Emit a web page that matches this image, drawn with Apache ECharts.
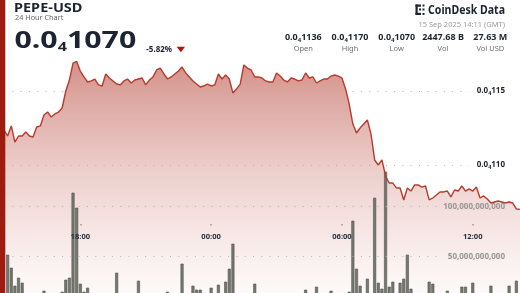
<!DOCTYPE html>
<html><head><meta charset="utf-8">
<script src="https://cdn.jsdelivr.net/npm/echarts@6/dist/echarts.min.js"></script>
<style>html,body{margin:0;padding:0;background:#fff}#c{width:520px;height:293px}</style>
</head><body><div id="c"></div>
<script>
// ---- data ----
const ticker = 'PEPE-USD';
const subtitle = '24 Hour Chart';
const lastPrice = '0.0₄1070';
const change = '-5.82%';
const stamp = '15 Sep 2025 14:11 (GMT)';
const brand = 'CoinDesk Data';
const statLabels = ['Open', 'High', 'Low', 'Vol', 'Vol USD'];
const statValues = ['0.0₄1136', '0.0₄1170', '0.0₄1070', '2447.68 B', '27.63 M'];
const xTickLabels = ['18:00', '00:00', '06:00', '12:00'];
const priceTickLabels = [1100e-8, 1150e-8];
const volumeTickLabels = [50, 100]; // billions

// 10-minute points, 14:30 (14 Sep) .. 14:10 (15 Sep)
const times = [];
for (let i = 0; i < 143; i++) {
  const m = (14 * 60 + 30 + i * 10) % 1440;
  times.push(String(Math.floor(m / 60)).padStart(2, '0') + ':' + String(m % 60).padStart(2, '0'));
}

// price in USD
const price = [
  1123.6e-8, 1119.6e-8, 1126.4e-8, 1115.5e-8, 1119.6e-8, 1119.6e-8, 1122.3e-8, 1119.6e-8, 1118.9e-8, 1125.7e-8,
  1126.4e-8, 1133.8e-8, 1135.8e-8, 1132.4e-8, 1134.5e-8, 1135.8e-8, 1138.5e-8, 1150.0e-8, 1157.4e-8, 1168.9e-8,
  1170.0e-8, 1163.5e-8, 1159.5e-8, 1156.1e-8, 1156.8e-8, 1158.1e-8, 1154.1e-8, 1153.4e-8, 1161.5e-8, 1158.8e-8,
  1156.8e-8, 1154.7e-8, 1154.1e-8, 1156.8e-8, 1158.1e-8, 1155.4e-8, 1157.4e-8, 1158.1e-8, 1158.8e-8, 1154.1e-8,
  1157.4e-8, 1159.5e-8, 1164.2e-8, 1165.5e-8, 1161.5e-8, 1158.1e-8, 1159.5e-8, 1161.5e-8, 1163.5e-8, 1166.2e-8,
  1162.2e-8, 1159.5e-8, 1156.8e-8, 1154.7e-8, 1152.7e-8, 1153.4e-8, 1154.7e-8, 1153.4e-8, 1154.1e-8, 1161.5e-8,
  1158.1e-8, 1160.8e-8, 1158.1e-8, 1148.6e-8, 1151.4e-8, 1154.7e-8, 1167.6e-8, 1165.5e-8, 1164.2e-8, 1159.5e-8,
  1159.5e-8, 1158.8e-8, 1156.8e-8, 1156.1e-8, 1156.1e-8, 1162.2e-8, 1160.1e-8, 1157.4e-8, 1156.1e-8, 1158.8e-8,
  1158.1e-8, 1156.8e-8, 1157.4e-8, 1162.2e-8, 1158.8e-8, 1159.5e-8, 1155.4e-8, 1156.8e-8, 1158.1e-8, 1158.1e-8,
  1160.1e-8, 1160.8e-8, 1160.1e-8, 1158.8e-8, 1151.4e-8, 1141.2e-8, 1127.7e-8, 1121.6e-8, 1125.0e-8, 1127.7e-8,
  1130.4e-8, 1120.9e-8, 1103.4e-8, 1100.0e-8, 1103.4e-8, 1092.6e-8, 1087.8e-8, 1087.8e-8, 1084.5e-8, 1084.5e-8,
  1076.4e-8, 1084.5e-8, 1082.4e-8, 1086.5e-8, 1086.5e-8, 1085.1e-8, 1085.8e-8, 1076.4e-8, 1077.7e-8, 1079.7e-8,
  1081.8e-8, 1081.8e-8, 1082.4e-8, 1078.4e-8, 1083.1e-8, 1082.4e-8, 1085.8e-8, 1082.4e-8, 1083.8e-8, 1082.4e-8,
  1085.1e-8, 1077.7e-8, 1079.1e-8, 1077.0e-8, 1074.3e-8, 1075.0e-8, 1075.7e-8, 1075.0e-8, 1074.3e-8, 1075.0e-8,
  1074.3e-8, 1070.3e-8, 1070.0e-8
];

// volume in billions of PEPE
const volumeB = [
  9, 52, 39, 21, 29, 24, 8, 6, 10, 7,
  5, 16, 9, 6, 8, 11, 15, 27, 29, 114,
  99, 23, 15, 19, 9, 7, 11, 6, 8, 5,
  9, 34, 7, 10, 6, 8, 5, 26, 9, 7,
  12, 6, 8, 5, 7, 15, 9, 6, 11, 43,
  8, 10, 21, 17, 17, 9, 12, 19, 10, 22,
  11, 25, 38, 63, 9, 7, 12, 8, 6, 23,
  7, 5, 8, 6, 10, 7, 5, 9, 6, 4,
  8, 6, 11, 17, 7, 9, 20, 8, 5, 10,
  16, 7, 9, 12, 11, 15, 86, 38, 21, 12,
  28, 10, 109, 24, 18, 135, 20, 25, 12, 24,
  28, 52, 18, 9, 11, 7, 10, 25, 23, 8,
  6, 10, 16, 7, 9, 12, 20, 20, 11, 24,
  9, 7, 10, 12, 21, 8, 6, 9, 11, 21,
  10, 26, 12
];

// ---- helpers ----
const FF = 'Noto Sans';
const DARK = '#1c2431';
function subRich(s, a, b) { // '0.0₄1136' -> rich tokens
  const i = s.indexOf('₄');
  if (i < 0) return '{' + a + '|' + s + '}';
  return '{' + a + '|' + s.slice(0, i) + '}{' + b + '|4}{' + a + '|' + s.slice(i + 1) + '}';
}
const near = (v, arr) => arr.some(t => Math.abs(v - t) < 1e-12);

const chart = echarts.init(document.getElementById('c'), null, {renderer: 'canvas'});

const statX = [303.3, 350, 396.7, 443, 490.3];
const graphics = [];
graphics.push({type: 'rect', z: 100, shape: {x: 0, y: 0, width: 5.3, height: 293}, style: {fill: '#9e1b10'}});
graphics.push({type: 'text', z: 100, x: 14, y: 8, scaleX: 1.16,
  style: {text: ticker, fontSize: 12.5, fontWeight: 'bold', fontFamily: FF, fill: DARK, verticalAlign: 'middle', textVerticalAlign: 'middle'}});
graphics.push({type: 'text', z: 100, x: 15, y: 18.4,
  style: {text: subtitle, fontSize: 7.3, fontFamily: FF, fill: '#666', verticalAlign: 'middle', textVerticalAlign: 'middle'}});
graphics.push({type: 'text', z: 100, x: 14.5, y: 41, scaleX: 1.29,
  style: {text: subRich(lastPrice, 'm', 's'), verticalAlign: 'middle', textVerticalAlign: 'middle',
    rich: {
      m: {fontSize: 23.5, fontWeight: 'bold', fontFamily: FF, fill: DARK, lineHeight: 26},
      s: {fontSize: 12.5, fontWeight: 'bold', fontFamily: FF, fill: DARK, lineHeight: 19.7, verticalAlign: 'bottom'}
    }}});
graphics.push({type: 'text', z: 100, x: 146.3, y: 49.5,
  style: {text: change, fontSize: 8, fontWeight: 'bold', fontFamily: FF, fill: DARK, verticalAlign: 'middle', textVerticalAlign: 'middle'}});
graphics.push({type: 'polygon', z: 100, shape: {points: [[176.7, 46.7], [185, 46.7], [180.85, 52.2]]}, style: {fill: '#b3140c'}});
graphics.push({type: 'text', z: 100, x: 505, y: 10.3, scaleX: 0.88,
  style: {text: brand, fontSize: 12, fontWeight: 'bold', fontFamily: FF, fill: DARK, align: 'right', textAlign: 'right', verticalAlign: 'middle', textVerticalAlign: 'middle'}});
graphics.push({type: 'group', z: 100, x: 415, y: 4, children: [
  {type: 'rect', shape: {x: 0.5, y: 0.5, width: 2.2, height: 10.5}, style: {fill: DARK}},
  {type: 'rect', shape: {x: 0.5, y: 0.5, width: 5.5, height: 2.2}, style: {fill: DARK}},
  {type: 'rect', shape: {x: 0.5, y: 8.8, width: 5.5, height: 2.2}, style: {fill: DARK}},
  {type: 'rect', shape: {x: 7.5, y: 0.5, width: 2, height: 2}, style: {fill: DARK}},
  {type: 'rect', shape: {x: 7.5, y: 4.5, width: 2, height: 2}, style: {fill: DARK}},
  {type: 'rect', shape: {x: 7.5, y: 9, width: 2, height: 2}, style: {fill: DARK}},
  {type: 'rect', shape: {x: 4, y: 4.5, width: 2, height: 2}, style: {fill: DARK}}
]});
graphics.push({type: 'text', z: 100, x: 505, y: 25,
  style: {text: stamp, fontSize: 7.5, fontFamily: FF, fill: '#9b9b9b', align: 'right', textAlign: 'right', verticalAlign: 'middle', textVerticalAlign: 'middle'}});
statValues.forEach((v, k) => {
  graphics.push({type: 'text', z: 100, x: statX[k], y: 37.4,
    style: {text: subRich(v, 'm', 's'), align: 'center', textAlign: 'center', verticalAlign: 'middle', textVerticalAlign: 'middle',
      rich: {
        m: {fontSize: 9, fontWeight: 'bold', fontFamily: FF, fill: DARK, lineHeight: 11},
        s: {fontSize: 6, fontWeight: 'bold', fontFamily: FF, fill: DARK, lineHeight: 9.3, verticalAlign: 'bottom'}
      }}});
  graphics.push({type: 'text', z: 100, x: statX[k], y: 48.8,
    style: {text: statLabels[k], fontSize: 7.5, fontFamily: FF, fill: '#6f6f6f', align: 'center', textAlign: 'center', verticalAlign: 'middle', textVerticalAlign: 'middle'}});
});

const gridLine = {type: [1, 7.3], color: '#b4b4b4', width: 1};

const option = {
  animation: false,
  backgroundColor: '#ffffff',
  grid: [
    {left: 4, right: 0, top: 17, height: 296, outerBoundsMode: 'none', containLabel: false},
    {left: 4, right: 0, top: 156.7, height: 150, outerBoundsMode: 'none', containLabel: false},
    {left: 4, right: 0, top: 0, height: 224, outerBoundsMode: 'none', containLabel: false}
  ],
  xAxis: [
    {type: 'category', gridIndex: 0, data: times, boundaryGap: false, show: false},
    {type: 'category', gridIndex: 1, data: times, boundaryGap: false, show: false},
    {type: 'category', gridIndex: 2, data: times, boundaryGap: false, z: 20,
      axisLine: {show: false},
      axisTick: {show: true, alignWithLabel: true, interval: (i, v) => xTickLabels.includes(v), length: 1.5,
        lineStyle: {color: '#9a9a9a', width: 1.5}},
      axisLabel: {interval: (i, v) => xTickLabels.includes(v), margin: 9, fontSize: 7.6, fontWeight: 'bold',
        color: '#28313e', fontFamily: FF},
      splitLine: {show: false}}
  ],
  yAxis: [
    {type: 'value', gridIndex: 0, position: 'right', min: 1000e-8, max: 1200e-8, interval: 50e-8, z: 20,
      axisLine: {show: false}, axisTick: {show: false}, splitLine: {show: false},
      axisLabel: {inside: true, margin: 15,
        formatter: v => near(v, priceTickLabels) ? subRich('0.0₄' + Math.round(v * 1e7), 'a', 'b') : '',
        rich: {
          a: {fontSize: 8, fontWeight: 'bold', fontFamily: FF, color: DARK, lineHeight: 10},
          b: {fontSize: 5.5, fontWeight: 'bold', fontFamily: FF, color: DARK, lineHeight: 8.6, verticalAlign: 'bottom'}
        }}},
    {type: 'value', gridIndex: 1, position: 'right', min: 0, max: 150, interval: 50, z: 20,
      axisLine: {show: false}, axisTick: {show: false}, splitLine: {show: false},
      axisLabel: {inside: true, margin: 15, fontSize: 8, fontWeight: 'bold', fontFamily: FF, color: '#959595',
        formatter: v => volumeTickLabels.includes(v) ? (v * 1e9).toLocaleString('en-US') : ''}},
    {type: 'value', gridIndex: 2, show: false}
  ],
  series: [
    {type: 'line', xAxisIndex: 0, yAxisIndex: 0, data: price, symbol: 'none', showSymbol: false,
      lineStyle: {color: '#b73a2d', width: 1.4},
      areaStyle: {origin: 'start', color: {type: 'linear', x: 0, y: 0, x2: 0, y2: 1, colorStops: [
        {offset: 0, color: 'rgba(178,58,45,0.80)'},
        {offset: 0.45, color: 'rgba(190,80,70,0.38)'},
        {offset: 1, color: 'rgba(210,120,110,0.0)'}
      ]}},
      markLine: {silent: true, symbol: ['none', 'none'], label: {show: false}, lineStyle: gridLine, animation: false,
        data: priceTickLabels.map(v => [{xAxis: times[0], yAxis: v}, {xAxis: times[128], yAxis: v}])}},
    {type: 'bar', xAxisIndex: 1, yAxisIndex: 1, data: volumeB, barWidth: 3, z: 3,
      itemStyle: {color: '#75786f', borderColor: '#50534d', borderWidth: 0.6},
      markLine: {silent: true, symbol: ['none', 'none'], label: {show: false}, lineStyle: gridLine, animation: false,
        data: volumeTickLabels.map(v => [{xAxis: times[0], yAxis: v}, {xAxis: times[121], yAxis: v}])}}
  ],
  graphic: graphics
};
chart.setOption(option);
</script></body></html>
